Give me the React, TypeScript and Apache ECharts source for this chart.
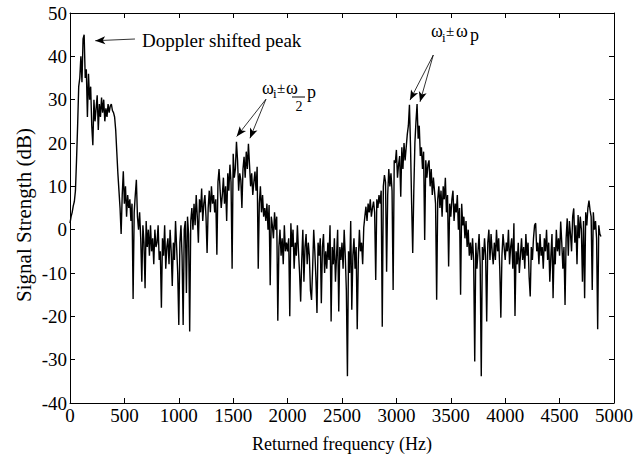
import { useEffect, useRef } from "react";
import * as echarts from "echarts";

// Sampling grid of the spectrum (Hz)
const FREQ_START_HZ = 0;
const FREQ_STEP_HZ = 10;

// Signal strength (dB), one value every 10 Hz
const SIGNAL_0_990 = [
  1.5, 3, 4, 5.5, 6.5, 9, 16, 24, 33, 35,
  40, 34, 44, 45, 35, 37, 26, 36, 30, 33,
  24, 19.5, 30, 25, 28, 31, 23, 29, 26, 30.5,
  27, 30, 25, 28, 26, 29, 27, 28.5, 29, 27.5,
  27, 26, 23, 18, 13, 9, 5, -1, 8, 13.5,
  6, 10, 3, 8, 5, 7, 2, 6, -16, 4,
  8, 11.5, 3, 0, 4, -2, -12, 1, -3, -13.5,
  2, -4, 0, -6, 1, -5, -2, -8, 0, -4,
  -3, 1, -7, -5, -18, -2, -6, 1, -9, -4,
  -2, -8, 0, -5, -13, -3, -7, 2, -4, -10,
];
const SIGNAL_1000_1990 = [
  -22, -3, 1, -6, -22, 0, 2, -14.6, 3, -1,
  -23.5, 2, 5, 0, 6, 1, 8, 3, -3, 7,
  4, 9.5, 2, 6, 8, 3, -5.4, 5, 9, 4,
  10, 6, 8, 4, 7, -5.8, 11, 14, 9, 5,
  8, 12, 6, 10, 2, 13, 9, 15, 11, -9,
  17.5, 12, 14, 20.3, 16, 9, 13, 11.5, 5, 14,
  16.8, 12, 18, 14, 19.8, 15, 10, 13, 8, 11,
  13.4, 9, 14.5, -9, 6, 10, 4, 8, 3, 5,
  2, 6, 0, 5.7, -12.8, 3, 1, -2, 4, 0,
  3, -21, -4, 0, -6, -2, -8, 1, -5, -3,
];
const SIGNAL_2000_2990 = [
  -5, -2, -20, 1.5, -4, 0, -9, -3, -6, 1,
  -5, -10, -16.6, -7, 0, -12, -4, -1, -8, -3,
  -6, -14, -16.2, -9, 0, -5, -11, -19.2, -3, -6,
  -2, -17, -4, -1, -10, -5, -9, -3, -7, 1,
  -21.2, -4, -8, -2, -12, -6, 0, -18.9, -4, -7,
  -3, -9, 0, -6, -14, -33.8, -5, -10, 2, -18.5,
  -6, -2, -9, -4, -23, -7, 0, -5, -3, -8,
  0.5, 3, 5.3, 2, 6, 4, 7, 3, 5, 6.5,
  4, -11.6, 7, 5, 8, 6, 9, -22.4, 10, 12.6,
  11, -9.7, 8, 14, 10, 13, 9, -13.9, 16, 15.4,
];
const SIGNAL_3000_3990 = [
  18.4, 12, 15, 17, 7.6, 19, 14, 20, 16, 19,
  22, 24, 28.8, 19, 6, -5.4, 9, 20, 25, 29,
  21, 24, 17, 19, 14, 18, -2.4, 16, 12, 15,
  16, 10, 14, 8, 12, 9, 6, -16.2, 7, 10,
  5, 9, 3, 10, 7, 12, 4, 8, -8.5, 6,
  3, 7, 9, 2, 6, 4, 8, 0, 5, -15,
  6, 1, 3, -2, 2, -4, 0, -6, -3, -7,
  -2, -7, -30.4, -3, -9, -5, -1, -8, -33.8, -4,
  -7, -2, -6, -21.2, -3, 0, -7, -1, -5, -8,
  -3, -7, 0, -5, -2, -9, -20.3, -6, -1, -4,
];
const SIGNAL_4000_4880 = [
  -7, -3, -5, 0, -8, -4, -2, -9, 1.5, -19.9,
  -5, -8, -3, -10, -6, -2, -7, -4, -9, -1,
  -6, -3, -11, -15.4, -4, -7, -2, 1, 1.5, -5,
  -3, -8, -1, -6, -4, -9, -2, -5, 0, -7,
  -3, -12, -6, -1, -15.8, -4, -8, 0, -5, -2,
  -6, 1.9, -3, -9, -4, -17.4, -2, 2.6, -6, 2,
  -1, -5, 3, 4.9, -3, 1, -8, 3.4, -2, 3,
  0, -12, 2, -15.8, 4, 1, 5, 6.7, 4.5, 3,
  -13.9, 4, 0, 2, -2, -23, 1, -1, -1.6,
];

const SIGNAL = [
  ...SIGNAL_0_990,
  ...SIGNAL_1000_1990,
  ...SIGNAL_2000_2990,
  ...SIGNAL_3000_3990,
  ...SIGNAL_4000_4880,
];

// Axes
const X_MIN = 0;
const X_MAX = 5000;
const X_INTERVAL = 500;
const Y_MIN = -40;
const Y_MAX = 50;
const Y_INTERVAL = 10;

const X_TITLE = "Returned frequency (Hz)";
const Y_TITLE = "Signal Strength (dB)";

// Annotation arrows in data coordinates: [fromHz, fromDb] -> [toHz, toDb]
const ARROW_FROM = [
  [597, 44.0],
  [1801, 30.1],
  [1801, 30.1],
  [3339, 40.3],
  [3339, 40.3],
];
const ARROW_TO = [
  [232, 43.6],
  [1532, 21.5],
  [1654, 21.1],
  [3125, 29.9],
  [3217, 29.5],
];

const FONT = "'Liberation Serif', 'Times New Roman', Times, serif";

export default function App() {
  const ref = useRef<HTMLDivElement>(null);

  useEffect(() => {
    if (!ref.current) return;
    const chart = echarts.init(ref.current, null, { renderer: "svg" });

    const seriesData = SIGNAL.map((v, i) => [FREQ_START_HZ + i * FREQ_STEP_HZ, v]);

    const axisCommon = {
      type: "value" as const,
      axisLine: { show: true, onZero: false, lineStyle: { color: "#000", width: 1 } },
      axisTick: { show: true, inside: true, length: 5, lineStyle: { color: "#000", width: 1 } },
      splitLine: { show: false },
    };

    const txt = (text: string, x: number, y: number, size: number, align = "left") => ({
      type: "text",
      x,
      y,
      silent: true,
      style: {
        text,
        fill: "#000",
        font: `${size}px ${FONT}`,
        align,
        verticalAlign: "middle",
      },
    });

    chart.setOption({
      animation: false,
      backgroundColor: "#fff",
      grid: { left: 70, right: 30, top: 13, bottom: 53, containLabel: false },
      xAxis: [
        {
          ...axisCommon,
          position: "bottom",
          min: X_MIN,
          max: X_MAX,
          interval: X_INTERVAL,
          axisLabel: {
            show: true,
            color: "#000",
            fontFamily: FONT,
            fontSize: 19,
            margin: 3,
            formatter: (v: number) => String(v),
          },
        },
        {
          ...axisCommon,
          position: "top",
          min: X_MIN,
          max: X_MAX,
          interval: X_INTERVAL,
          axisLabel: { show: false },
        },
      ],
      yAxis: [
        {
          ...axisCommon,
          position: "left",
          min: Y_MIN,
          max: Y_MAX,
          interval: Y_INTERVAL,
          axisLabel: {
            show: true,
            color: "#000",
            fontFamily: FONT,
            fontSize: 19,
            margin: 3,
            formatter: (v: number) => String(v),
          },
        },
        {
          ...axisCommon,
          position: "right",
          min: Y_MIN,
          max: Y_MAX,
          interval: Y_INTERVAL,
          axisLabel: { show: false },
        },
      ],
      series: [
        {
          type: "line",
          xAxisIndex: 0,
          yAxisIndex: 0,
          data: seriesData,
          showSymbol: false,
          symbol: "none",
          lineStyle: { color: "#000", width: 1.4 },
          itemStyle: { color: "#000" },
          silent: true,
          markLine: {
            silent: true,
            animation: false,
            symbol: ["none", "arrow"],
            label: { show: false },
            lineStyle: { color: "#000", width: 0.8, type: "solid" },
            emphasis: { disabled: true },
            data: ARROW_FROM.map((from, i) => [
              { coord: from, symbol: "none" },
              { coord: ARROW_TO[i], symbol: "arrow", symbolSize: [6, 10] },
            ]),
          },
        },
      ],
      graphic: [
        txt(X_TITLE, 342, 444, 18, "center"),
        {
          type: "text",
          x: 24,
          y: 215,
          rotation: Math.PI / 2,
          silent: true,
          style: {
            text: Y_TITLE,
            fill: "#000",
            font: `21px ${FONT}`,
            align: "center",
            verticalAlign: "middle",
          },
        },
        txt("Doppler shifted peak", 142, 40, 19),
        // ω_i ± ω_p / 2
        txt("ω", 262, 88, 18),
        txt("i", 273, 93.5, 13),
        txt("±", 277, 88, 15),
        txt("ω", 286, 88, 18),
        {
          type: "line",
          silent: true,
          shape: { x1: 292, y1: 97, x2: 305, y2: 97 },
          style: { stroke: "#000", lineWidth: 1 },
        },
        txt("2", 299, 106, 14, "center"),
        txt("p", 307, 92, 18),
        // ω_i ± ω_p
        txt("ω", 431, 31, 18),
        txt("i", 442, 37.5, 13),
        txt("±", 446, 31, 15),
        txt("ω", 456, 31, 18),
        txt("p", 470, 35, 18),
      ],
    });

    return () => chart.dispose();
  }, []);

  return (
    <div
      ref={ref}
      style={{ position: "fixed", left: 0, top: 0, width: 644, height: 456 }}
    />
  );
}
